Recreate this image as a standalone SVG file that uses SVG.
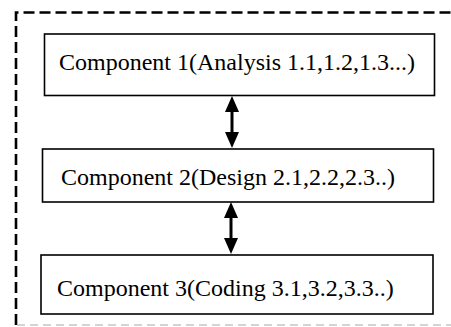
<svg xmlns="http://www.w3.org/2000/svg" width="451" height="327" viewBox="0 0 451 327">
<defs>
<style>
.box{fill:#fff;stroke:#000;stroke-width:1.6}
.lbl{font-family:"Liberation Serif","Times New Roman",serif;font-size:24px;fill:#000}
.conn{stroke:#000;stroke-width:3;fill:none}
.outer{stroke:#000;stroke-width:2.6;stroke-dasharray:11 5;fill:none}
.outerb{stroke:#aaa;stroke-width:1.2;stroke-dasharray:8 5;fill:none}
</style>
<marker id="ah" viewBox="0 0 16 14" refX="8" refY="7" markerWidth="16" markerHeight="14" markerUnits="userSpaceOnUse" orient="auto-start-reverse">
<path d="M0,0 L16,7 L0,14 Z" fill="#000"/>
</marker>
</defs>
<rect width="451" height="327" fill="#fff"/>
<g id="frame">
<path class="outer" d="M16,325 L16,12.5 L452,12.5"/>
<path class="outerb" d="M17,325 L452,325"/>
</g>
<g id="connectors">
<line class="conn" x1="232" y1="104" x2="232" y2="140" marker-start="url(#ah)" marker-end="url(#ah)"/>
<line class="conn" x1="231" y1="210" x2="231" y2="246" marker-start="url(#ah)" marker-end="url(#ah)"/>
</g>
<g id="component1">
<rect class="box" x="44.5" y="34" width="390" height="61.5"/>
<text class="lbl" x="59" y="69.5">Component 1(Analysis 1.1,1.2,1.3...)</text>
</g>
<g id="component2">
<rect class="box" x="42.5" y="149" width="391" height="53"/>
<text class="lbl" x="61" y="185">Component 2(Design 2.1,2.2,2.3..)</text>
</g>
<g id="component3">
<rect class="box" x="41" y="255" width="392" height="59"/>
<text class="lbl" x="57" y="296">Component 3(Coding 3.1,3.2,3.3..)</text>
</g>
</svg>
